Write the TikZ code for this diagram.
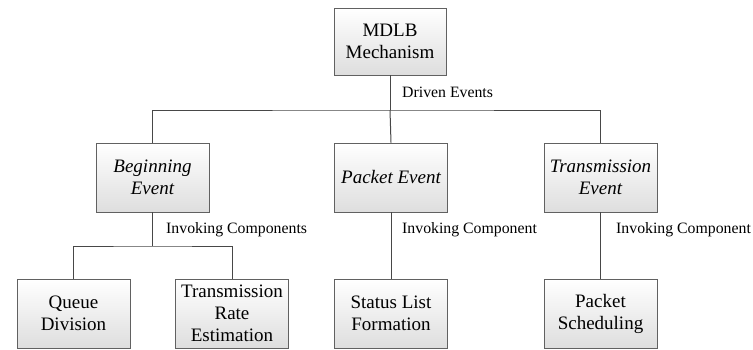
\documentclass[tikz,border=0pt]{standalone}
\usepackage{fontspec}
\setmainfont{Liberation Serif}
\begin{document}
\begin{tikzpicture}[x=1pt,y=-1pt,
  box/.style={draw=black!62, line width=0.8pt, top color=white, bottom color=black!13,
    align=center, inner sep=2pt, font=\fontsize{19}{22}\selectfont,
    minimum width=113pt, minimum height=69pt},
  conn/.style={draw=black!72, line width=1pt},
  lbl/.style={font=\fontsize{15.8}{18}\selectfont, anchor=west, inner sep=0pt}]
\useasboundingbox (0,0) rectangle (753,349);
\node[box, minimum height=67pt, minimum width=112pt] (mdlb) at (390,41.5) {MDLB\\Mechanism};
\node[box] (beg) at (152.5,177.5) {\itshape Beginning\\\itshape Event};
\node[box] (pkt) at (391,177.5) {\itshape Packet Event};
\node[box] (tx) at (600.5,177.5) {\itshape Transmission\\\itshape Event};
\node[box] (qd) at (73.5,313.5) {Queue\\Division};
\node[box] (tr) at (232,313.5) {Transmission\\Rate\\Estimation};
\node[box] (sl) at (391,313.5) {Status List\\Formation};
\node[box] (ps) at (600.5,313.5) {Packet\\Scheduling};
\coordinate (h1) at (390,110);
\coordinate (h2) at (152.5,246);
\draw[conn] (mdlb.south) -- (h1);
\draw[conn] (beg.north) |- (h1) -| (tx.north);
\draw[conn] (h1) -- (pkt.north);
\draw[conn] (beg.south) -- (h2);
\draw[conn] (qd.north) |- (h2) -| (tr.north);
\draw[conn] (pkt.south) -- (sl.north);
\draw[conn] (tx.south) -- (ps.north);
\node[lbl] (l1) at (402,92) {Driven Events};
\node[lbl] (l2) at (166,230) {Invoking Components};
\node[lbl] (l3) at (402,230) {Invoking Component};
\node[lbl] (l4) at (616,230) {Invoking Component};
\end{tikzpicture}
\end{document}
